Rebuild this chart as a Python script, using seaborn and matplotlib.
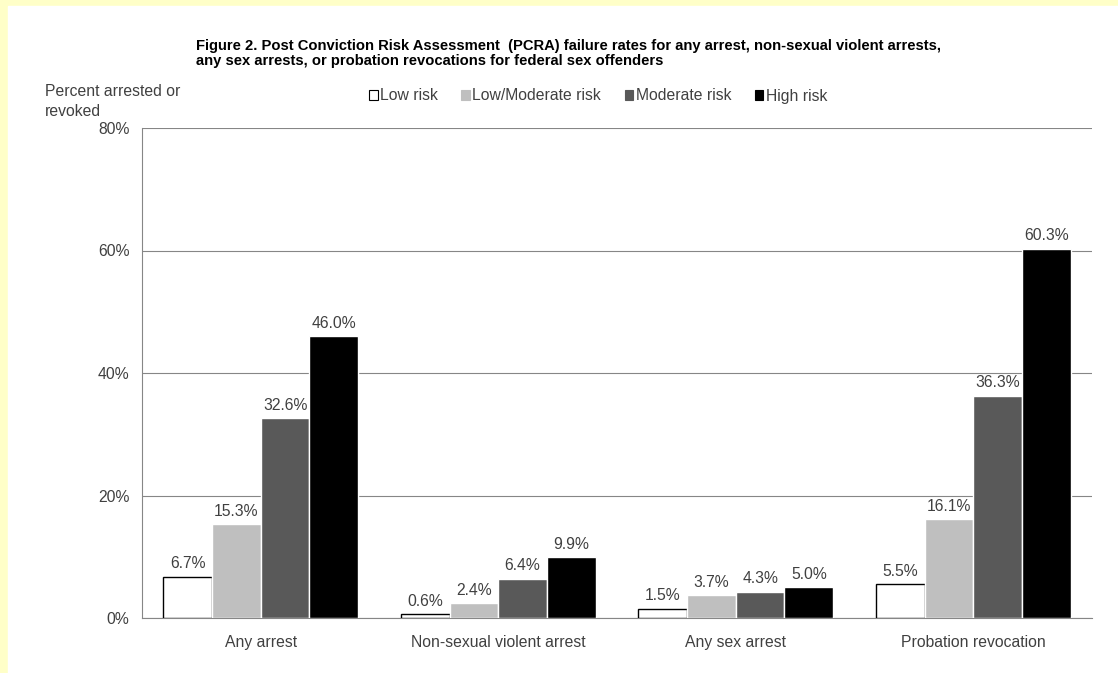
import pandas as pd
import matplotlib.pyplot as plt
import seaborn as sns
from matplotlib.patches import Rectangle

# data
categories = ['Any arrest', 'Non-sexual violent arrest', 'Any sex arrest', 'Probation revocation']
risk_levels = ['Low risk', 'Low/Moderate risk', 'Moderate risk', 'High risk']
low = [6.7, 0.6, 1.5, 5.5]
low_mod = [15.3, 2.4, 3.7, 16.1]
moderate = [32.6, 6.4, 4.3, 36.3]
high = [46.0, 9.9, 5.0, 60.3]

rows = []
for level, vals in zip(risk_levels, [low, low_mod, moderate, high]):
    for cat, v in zip(categories, vals):
        rows.append({'category': cat, 'risk': level, 'pct': v})
df = pd.DataFrame(rows)

sns.set_style('white')
plt.rcParams['font.family'] = ['Liberation Sans', 'DejaVu Sans']
text_col = '#404040'
grid_col = '#868686'
fs = 11.3

fig = plt.figure(figsize=(11.18, 6.73), dpi=100)
# yellow frame at top and left edge
fig.patches.append(Rectangle((0, 0), 1, 1, transform=fig.transFigure, color='#FFFFC8', zorder=-2))
fig.patches.append(Rectangle((8 / 1118, 0), 1, 1 - 6 / 673, transform=fig.transFigure, color='white', zorder=-1))

ax = fig.add_axes([142 / 1118, 1 - 618 / 673, 950 / 1118, 490 / 673])
ax.patch.set_alpha(0)

palette = {'Low risk': 'white', 'Low/Moderate risk': '#BFBFBF',
           'Moderate risk': '#595959', 'High risk': 'black'}
sns.barplot(data=df, x='category', y='pct', hue='risk', hue_order=risk_levels,
            order=categories, palette=palette, width=0.82, saturation=1,
            legend=False, ax=ax, zorder=3)

for bar in ax.containers[0]:
    bar.set_edgecolor('black')
    bar.set_linewidth(1.0)

for cont in ax.containers:
    ax.bar_label(cont, fmt='%.1f%%', padding=4, fontsize=fs, color=text_col)

ax.set_ylim(0, 80)
ax.set_xlim(-0.5, 3.5)
ax.set_yticks([0, 20, 40, 60, 80])
ax.set_yticklabels(['0%', '20%', '40%', '60%', '80%'], fontsize=fs, color=text_col)
ax.yaxis.grid(True, color=grid_col, linewidth=0.8, zorder=0)
ax.set_axisbelow(True)
ax.set_xticks(range(4))
ax.set_xticklabels(categories, fontsize=fs, color=text_col)
ax.set_xticks([-0.5, 0.5, 1.5, 2.5, 3.5], minor=True)
ax.tick_params(axis='x', which='major', length=0, pad=12)
ax.tick_params(axis='x', which='minor', length=5, color=grid_col, width=0.8)
ax.tick_params(axis='y', which='major', length=5, color=grid_col, width=0.8, pad=4)
ax.set_xlabel('')
ax.set_ylabel('')
for side in ['top', 'right']:
    ax.spines[side].set_visible(False)
for side in ['left', 'bottom']:
    ax.spines[side].set_color(grid_col)
    ax.spines[side].set_linewidth(0.8)

fig.text(45 / 1118, 1 - 84 / 673, 'Percent arrested or\nrevoked', fontsize=fs,
         color=text_col, va='top', ha='left', linespacing=1.4)

fig.text(196 / 1118, 1 - 39 / 673,
         'Figure 2. Post Conviction Risk Assessment  (PCRA) failure rates for any arrest, non-sexual violent arrests,\n'
         'any sex arrests, or probation revocations for federal sex offenders',
         fontsize=10.6, fontweight='bold', color='black', va='top', ha='left', linespacing=1.05)

# legend
handles = [Rectangle((0, 0), 1, 1, facecolor=palette[r], edgecolor='black' if r == 'Low risk' else palette[r],
                     linewidth=0.8) for r in risk_levels]
leg = fig.legend(handles, risk_levels, loc='center', bbox_to_anchor=(598 / 1118, 1 - 96 / 673),
                 ncol=4, frameon=False, fontsize=fs, handlelength=0.55, handleheight=0.55,
                 handletextpad=0.15, columnspacing=1.5, labelcolor=text_col)

fig.savefig('out.png', dpi=100)
